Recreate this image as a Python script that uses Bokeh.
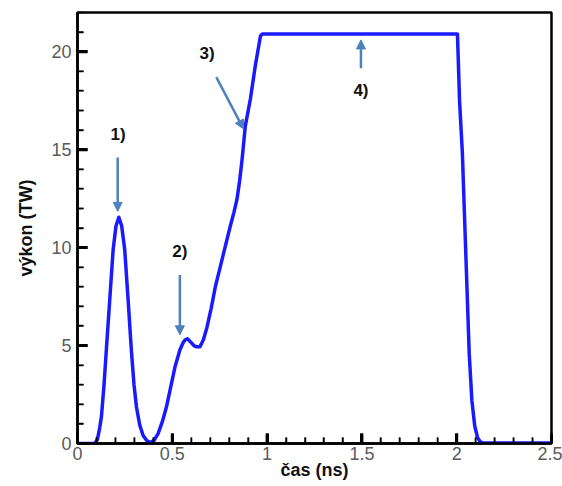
from bokeh.plotting import figure
from bokeh.models import Range1d, SingleIntervalTicker, Arrow, NormalHead, ColumnDataSource
from bokeh.embed import file_html
from bokeh.resources import INLINE

# ---- data ----
time_ns = [0.0, 0.091, 0.105, 0.117, 0.126, 0.14, 0.152, 0.17, 0.188, 0.203, 0.218,
           0.233, 0.249, 0.267, 0.284, 0.298, 0.311, 0.328, 0.346, 0.365, 0.382,
           0.403, 0.425, 0.447, 0.469, 0.492, 0.514, 0.54, 0.557, 0.567, 0.58,
           0.6, 0.615, 0.628, 0.646, 0.664, 0.682, 0.705, 0.727, 0.75, 0.771,
           0.806, 0.825, 0.841, 0.855, 0.868, 0.885, 0.912, 0.938, 0.965, 0.975,
           1.5, 2.004, 2.015, 2.03, 2.048, 2.066, 2.08, 2.095, 2.11, 2.125, 2.14, 2.5]
power_tw = [0.0, 0.0, 0.2, 0.8, 1.35, 3.0, 4.77, 7.33, 9.9, 11.1, 11.55,
            11.1, 9.9, 7.33, 4.77, 3.0, 1.86, 0.95, 0.41, 0.15, 0.05,
            0.15, 0.5, 1.1, 1.86, 2.9, 3.9, 4.77, 5.15, 5.28, 5.35,
            5.15, 4.98, 4.94, 4.94, 5.3, 5.9, 6.9, 8.0, 8.9, 9.73,
            11.1, 11.8, 12.46, 13.4, 14.5, 16.2, 17.6, 19.3, 20.8, 20.9,
            20.9, 20.9, 17.5, 14.8, 9.7, 4.6, 2.2, 0.9, 0.3, 0.08, 0.02, 0.02]

x_ticks = [0, 0.5, 1, 1.5, 2, 2.5]
x_tick_labels = ["0", "0.5", "1", "1.5", "2", "2.5"]
x_minor = [0.1, 0.2, 0.3, 0.4, 0.6, 0.7, 0.8, 0.9, 1.1, 1.2, 1.3, 1.4,
           1.6, 1.7, 1.8, 1.9, 2.1, 2.2, 2.3, 2.4]
y_ticks = [0, 5, 10, 15, 20]
y_tick_labels = ["0", "5", "10", "15", "20"]
y_minor = [1, 2, 3, 4, 6, 7, 8, 9, 11, 12, 13, 14, 16, 17, 18, 19, 21]

# annotations: labels and arrows (data coordinates)
note_text = ["1)", "2)", "3)", "4)"]
note_x = [0.214, 0.54, 0.683, 1.495]
note_y = [15.75, 9.8, 19.9, 18.0]
arrow_x0 = [0.212, 0.54, 0.732, 1.495]
arrow_y0 = [14.6, 8.6, 18.7, 19.15]
arrow_x1 = [0.212, 0.54, 0.876, 1.495]
arrow_y1 = [11.85, 5.55, 16.05, 20.6]

X0, X1, Y0, Y1 = 0, 2.5, 0, 22
p = figure(width=562, height=486, output_backend="svg", toolbar_location=None,
           x_range=Range1d(X0, X1), y_range=Range1d(Y0, Y1),
           min_border_left=77, min_border_right=11, min_border_top=12, min_border_bottom=43,
           x_axis_label="čas (ns)", y_axis_label="výkon (TW)")

p.grid.visible = False
p.outline_line_color = "black"
p.outline_line_width = 2.5

p.xaxis.ticker = SingleIntervalTicker(interval=0.5, num_minor_ticks=5)
p.yaxis.ticker = SingleIntervalTicker(interval=5, num_minor_ticks=5)
p.xaxis.major_label_overrides = dict(zip(x_ticks, x_tick_labels))
p.yaxis.major_label_overrides = dict(zip(y_ticks, y_tick_labels))

for ax in (p.xaxis, p.yaxis):
    ax.axis_line_color = "black"
    ax.axis_line_width = 2.5
    ax.major_tick_in = 10
    ax.major_tick_out = 0
    ax.minor_tick_in = 6
    ax.minor_tick_out = 0
    ax.major_tick_line_width = 3
    ax.minor_tick_line_width = 1.5
    ax.major_tick_line_color = "black"
    ax.minor_tick_line_color = "black"
    ax.major_label_text_font_size = "18px"
    ax.major_label_text_color = "#5a5a5a"
    ax.axis_label_text_font_size = "18px"
    ax.axis_label_text_font_style = "bold"
    ax.axis_label_text_color = "#111111"

p.xaxis.major_label_standoff = 3
p.xaxis.axis_label_standoff = -3
p.yaxis.major_label_standoff = 6
p.yaxis.axis_label_standoff = 12

# inward tick marks as head-less line annotations (pixel lengths -> data units)
dx = (X1 - X0) / 473.0
dy = (Y1 - Y0) / 431.0
for xv in x_ticks:
    p.add_layout(Arrow(x_start=xv, y_start=Y0, x_end=xv, y_end=Y0 + 10 * dy, end=None,
                       line_color="black", line_width=3))
for xv in x_minor:
    p.add_layout(Arrow(x_start=xv, y_start=Y0, x_end=xv, y_end=Y0 + 6 * dy, end=None,
                       line_color="black", line_width=1.5))
for yv in y_ticks:
    p.add_layout(Arrow(x_start=X0, y_start=yv, x_end=X0 + 10 * dx, y_end=yv, end=None,
                       line_color="black", line_width=3))
for yv in y_minor:
    p.add_layout(Arrow(x_start=X0, y_start=yv, x_end=X0 + 6 * dx, y_end=yv, end=None,
                       line_color="black", line_width=1.5))

p.line(time_ns, power_tw, line_color="#1a1aff", line_width=3.5, line_join="round")

arrow_color = "#4f81bd"
for xs, ys, xe, ye in zip(arrow_x0, arrow_y0, arrow_x1, arrow_y1):
    p.add_layout(Arrow(x_start=xs, y_start=ys, x_end=xe, y_end=ye,
                       line_color=arrow_color, line_width=2.5,
                       end=NormalHead(size=9, fill_color=arrow_color, line_color=arrow_color)))

src = ColumnDataSource(dict(x=note_x, y=note_y, t=note_text))
p.text(x="x", y="y", text="t", source=src,
       text_font_size="17px", text_font_style="bold", text_color="#111111",
       text_align="center", text_baseline="middle")

open("out.html", "w").write(file_html(p, INLINE))
